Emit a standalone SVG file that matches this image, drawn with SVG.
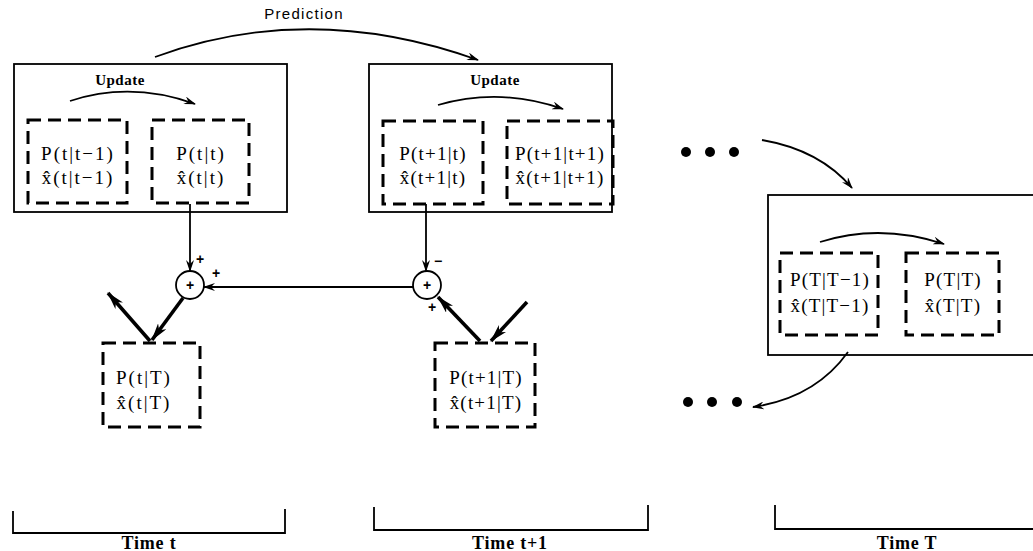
<svg xmlns="http://www.w3.org/2000/svg" width="1033" height="551" viewBox="0 0 1033 551">
  <style>
    .frame { fill: none; stroke: #000; stroke-width: 1.8; }
    .dash { fill: none; stroke: #000; stroke-width: 3; stroke-dasharray: 13 7; }
    .thin { fill: none; stroke: #000; stroke-width: 1.8; }
    .thick { fill: none; stroke: #000; stroke-width: 3.6; }
    .math { font-family: "Liberation Serif", "Times New Roman", serif; font-size: 19px; letter-spacing: 2px; text-anchor: middle; fill: #000; }
    .math.tight { letter-spacing: 1.2px; }
    .lab { font-family: "Liberation Serif", serif; font-size: 15px; font-weight: bold; letter-spacing: 0.5px; text-anchor: middle; fill: #000; }
    .sans { font-family: "Liberation Sans", Arial, sans-serif; font-size: 15px; letter-spacing: 1.3px; text-anchor: middle; fill: #000; }
    .sign { font-family: "Liberation Sans", Arial, sans-serif; font-size: 14px; font-weight: bold; text-anchor: middle; fill: #000; }
    .time { font-family: "Liberation Serif", serif; font-size: 18px; font-weight: bold; letter-spacing: 0.8px; text-anchor: middle; fill: #000; }
  </style>
  <defs>
    <marker id="head" viewBox="0 0 12 8" refX="11" refY="4" markerWidth="12" markerHeight="8" markerUnits="userSpaceOnUse" orient="auto">
      <path d="M0,0 L12,4 L0,8 L4,4 z" fill="#000"/>
    </marker>
    <marker id="bold" viewBox="0 0 18 10" refX="17" refY="5" markerWidth="18" markerHeight="10" markerUnits="userSpaceOnUse" orient="auto">
      <path d="M0,0 L18,5 L0,10 L5,5 z" fill="#000"/>
    </marker>
  </defs>

  <!-- filter step at time t -->
  <g id="step-t">
    <rect class="frame" x="14" y="64" width="273" height="148"/>
    <text class="lab" x="120" y="85">Update</text>
    <g id="pred-t">
      <rect class="dash" x="28" y="120" width="99" height="83"/>
      <text class="math" x="78" y="160">P(t|t−1)</text>
      <text class="math" x="78" y="184">x̂(t|t−1)</text>
    </g>
    <g id="filt-t">
      <rect class="dash" x="152" y="120" width="97" height="83"/>
      <text class="math" x="201" y="160">P(t|t)</text>
      <text class="math" x="201" y="184">x̂(t|t)</text>
    </g>
  </g>

  <!-- filter step at time t+1 -->
  <g id="step-t1">
    <rect class="frame" x="369" y="64" width="243" height="148"/>
    <text class="lab" x="495" y="85">Update</text>
    <g id="pred-t1">
      <rect class="dash" x="383" y="121" width="100" height="83"/>
      <text class="math tight" x="433" y="160">P(t+1|t)</text>
      <text class="math tight" x="433" y="184">x̂(t+1|t)</text>
    </g>
    <g id="filt-t1">
      <rect class="dash" x="507" y="121" width="106" height="83"/>
      <text class="math tight" x="560" y="160">P(t+1|t+1)</text>
      <text class="math tight" x="560" y="184">x̂(t+1|t+1)</text>
    </g>
  </g>

  <!-- filter step at final time T -->
  <g id="step-T">
    <rect class="frame" x="768" y="195" width="280" height="160"/>
    <g id="pred-T">
      <rect class="dash" x="780" y="253" width="98" height="82"/>
      <text class="math tight" x="830" y="286">P(T|T−1)</text>
      <text class="math tight" x="830" y="312">x̂(T|T−1)</text>
    </g>
    <g id="filt-T">
      <rect class="dash" x="906" y="253" width="93" height="82"/>
      <text class="math tight" x="953" y="286">P(T|T)</text>
      <text class="math tight" x="953" y="312">x̂(T|T)</text>
    </g>
  </g>

  <!-- summing junctions -->
  <g id="sum-t">
    <circle class="thin" cx="190" cy="285" r="14"/>
    <text class="sign" x="190" y="290">+</text>
  </g>
  <g id="sum-t1">
    <circle class="thin" cx="427" cy="285" r="14"/>
    <text class="sign" x="427" y="290">+</text>
  </g>

  <!-- smoothed estimates -->
  <g id="smooth-t">
    <rect class="dash" x="103" y="343" width="97" height="84"/>
    <text class="math" x="144" y="384">P(t|T)</text>
    <text class="math" x="144" y="409">x̂(t|T)</text>
  </g>
  <g id="smooth-t1">
    <rect class="dash" x="435" y="343" width="100" height="84"/>
    <text class="math tight" x="486" y="384">P(t+1|T)</text>
    <text class="math tight" x="486" y="409">x̂(t+1|T)</text>
  </g>

  <!-- ellipses between time steps -->
  <g id="dots-top">
    <circle cx="686" cy="152" r="5"/>
    <circle cx="710" cy="152" r="5"/>
    <circle cx="734" cy="152" r="5"/>
  </g>
  <g id="dots-bottom">
    <circle cx="688" cy="402" r="5"/>
    <circle cx="712" cy="402" r="5"/>
    <circle cx="737" cy="402" r="5"/>
  </g>

  <!-- connectors -->
  <g id="connectors">
    <path class="thin" d="M155,57 Q310,0 478,60" marker-end="url(#head)"/>
    <path class="thin" d="M70,101 Q131,81 195,104" marker-end="url(#head)"/>
    <path class="thin" d="M438,105 Q500,87 563,109" marker-end="url(#head)"/>
    <path class="thin" d="M820,242 Q880,223 944,244" marker-end="url(#head)"/>
    <path class="thin" d="M762,140 Q820,150 852,188" marker-end="url(#head)"/>
    <path class="thin" d="M848,352 Q815,398 753,407" marker-end="url(#head)"/>
    <path class="thin" d="M190,204 V271" marker-end="url(#head)"/>
    <path class="thin" d="M426,204 V271" marker-end="url(#head)"/>
    <path class="thin" d="M413,287 H204" marker-end="url(#head)"/>
    <path class="thick" d="M183,298 L152,340" marker-end="url(#bold)"/>
    <path class="thick" d="M150,341 L108,293" marker-end="url(#bold)"/>
    <path class="thick" d="M480,341 L438,297" marker-end="url(#bold)"/>
    <path class="thick" d="M527,302 L491,341" marker-end="url(#bold)"/>
  </g>

  <!-- junction signs -->
  <text class="sign" x="200" y="264">+</text>
  <text class="sign" x="216" y="278">+</text>
  <text class="sign" x="438" y="266">−</text>
  <text class="sign" x="432" y="312">+</text>

  <text class="sans" x="304" y="19">Prediction</text>

  <!-- time brackets -->
  <g id="time-axis">
    <path class="thin" d="M13,511 V533 H285 V509"/>
    <path class="thin" d="M374,507 V530 H648 V505"/>
    <path class="thin" d="M775,505 V529 H1040"/>
    <text class="time" x="149" y="549">Time  t</text>
    <text class="time" x="510" y="549">Time  t+1</text>
    <text class="time" x="907" y="549">Time  T</text>
  </g>
</svg>
